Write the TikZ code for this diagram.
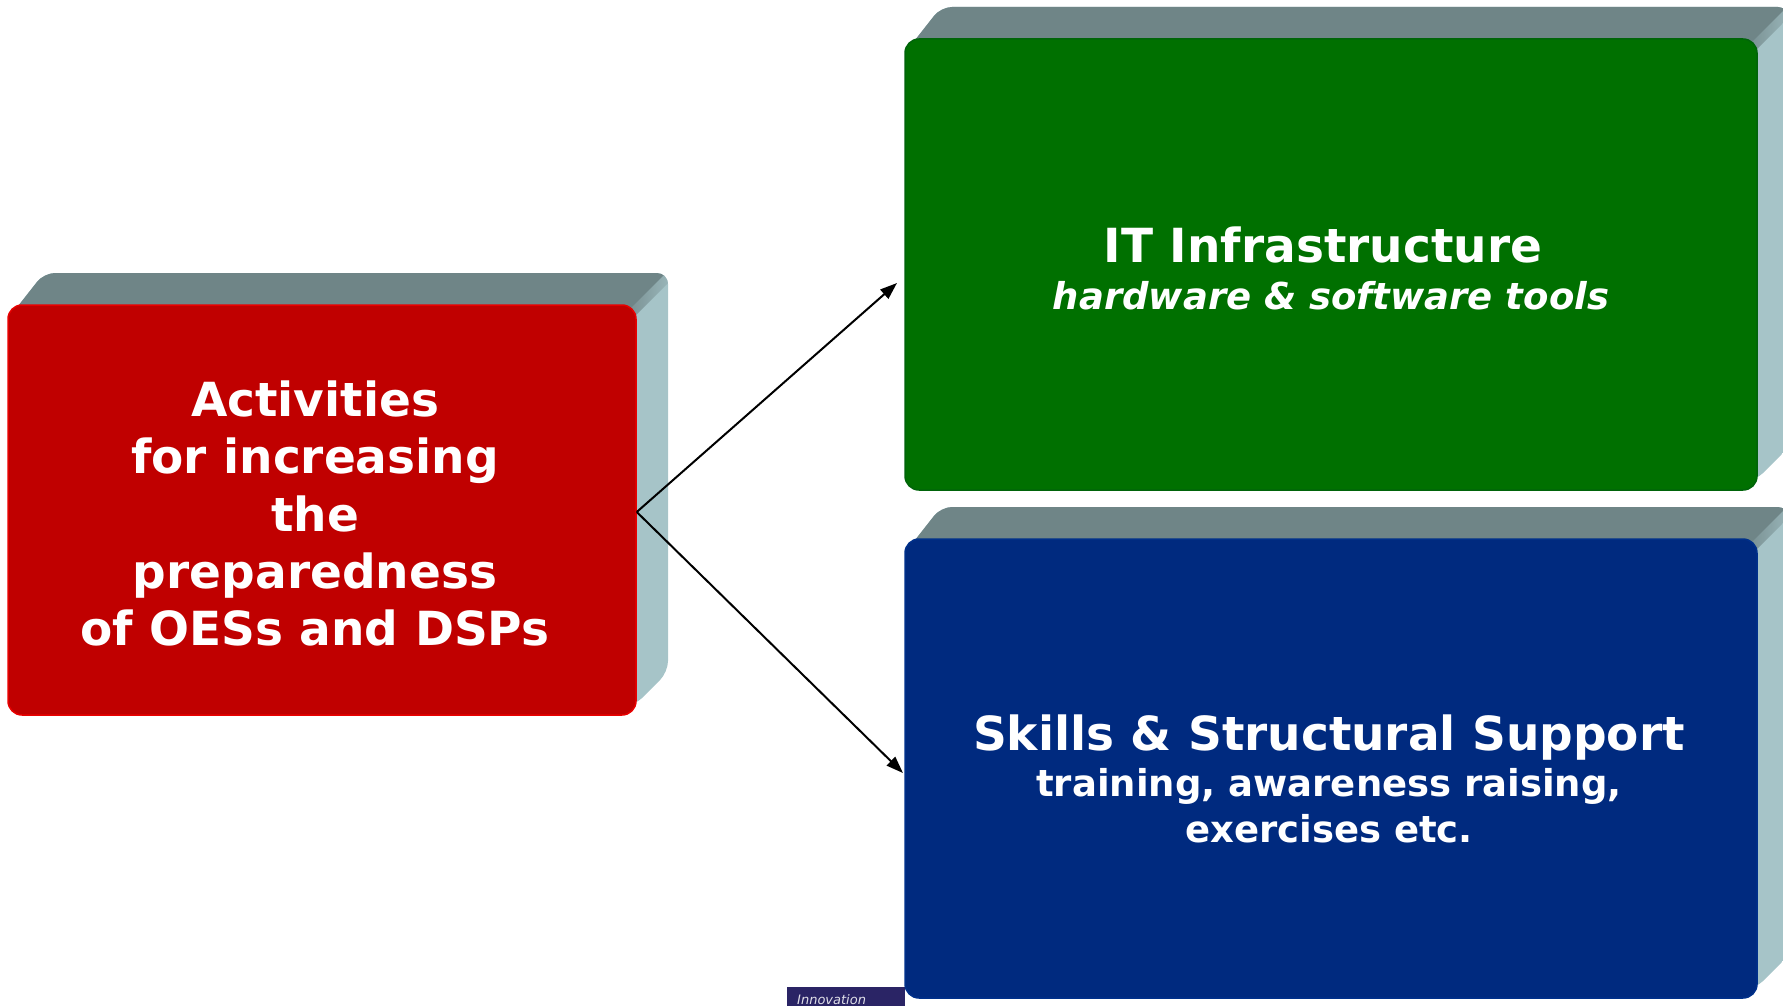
\documentclass[tikz,border=0pt]{standalone}
\usepackage{fontspec}
\setmainfont{DejaVu Sans}
\usetikzlibrary{arrows.meta}
\definecolor{redface}{HTML}{C00000}
\definecolor{rededge}{HTML}{E80000}
\definecolor{greenface}{HTML}{007000}
\definecolor{greenedge}{HTML}{00640A}
\definecolor{blueface}{HTML}{002A7F}
\definecolor{blueedge}{HTML}{00308A}
\definecolor{toppanel}{HTML}{6F8587}
\definecolor{sidepanel}{HTML}{A6C4C8}
\definecolor{footerbg}{HTML}{2A2465}
% #1=x1 #2=y1 #3=x2 #4=y2 of the front face (pixel coords, y downward)
\newcommand\boxextrusion[4]{%
  \begin{scope}
    \clip[rounded corners=11] (#1+3,#2+10) -- (#1+36,#2-32) -- (#3+32,#2-32) -- (#3+32,#4-43) -- (#3-2,#4-9) -- (#1+10,#4-9) -- cycle;
    \fill[sidepanel] (#1,#2-40) rectangle (#3+40,#4);
    \fill[toppanel] (#1-20,#2+20) -- (#1+20,#2-40) -- (#3+40,#2-40) -- (#3-20,#2+20) -- cycle;
    \shade[left color=toppanel, right color=sidepanel] (#3-22,#2+20) -- (#3+38,#2-40) -- (#3+50,#2-40) -- (#3-10,#2+20) -- cycle;
  \end{scope}
}
\tikzset{
  face/.style={rounded corners=14, line width=1.5pt, inner sep=0pt},
  bigtext/.style={text=white, anchor=base, font=\fontsize{47}{57}\selectfont\bfseries},
  subtext/.style={text=white, anchor=base, font=\fontsize{37}{46}\selectfont\bfseries},
  arr/.style={line width=2pt, -{Triangle[length=17pt,width=12pt]}}
}
\begin{document}
\begin{tikzpicture}[x=1pt,y=-1pt]
\useasboundingbox (0,0) rectangle (1783,1006);
\clip (0,0) rectangle (1783,1006);

% footer remnant
\fill[footerbg] (787,987) rectangle (905,1006);
\node[anchor=base west, text=white!85!footerbg, inner sep=0pt, font=\fontsize{13}{13}\selectfont\itshape] (innov) at (797,1004) {Innovation};

% red box
\boxextrusion{8}{305}{636}{715}
\node[face, fill=redface, draw=rededge, minimum width=628, minimum height=410] (red) at (322,510) {};
\node[bigtext] (r1) at (315,416) {Activities};
\node[bigtext] (r2) at (315,473) {for increasing};
\node[bigtext] (r3) at (315,531) {the};
\node[bigtext] (r4) at (315,588) {preparedness};
\node[bigtext] (r5) at (315,645) {of OESs and DSPs};

% green box
\boxextrusion{905}{39}{1757}{490}
\node[face, fill=greenface, draw=greenedge, minimum width=852, minimum height=451] (green) at (1331,264.5) {};
\node[bigtext] (g1) at (1323,262) {IT Infrastructure};
\node[subtext, font=\fontsize{37}{46}\selectfont\bfseries\itshape] (g2) at (1331,309) {hardware \& software tools};

% blue box
\boxextrusion{905}{539}{1757}{998}
\node[face, fill=blueface, draw=blueedge, minimum width=852, minimum height=459] (blue) at (1331,768.5) {};
\node[bigtext] (b1) at (1329,750) {Skills \& Structural Support};
\node[subtext] (b2) at (1329,796) {training, awareness raising,};
\node[subtext] (b3) at (1329,842) {exercises etc.};

% connectors
\coordinate (gtip) at (897,283);
\coordinate (btip) at (903,773);
\draw[arr] ([yshift=-2]red.east) -- (gtip);
\draw[arr] ([yshift=-2]red.east) -- (btip);
\end{tikzpicture}
\end{document}
